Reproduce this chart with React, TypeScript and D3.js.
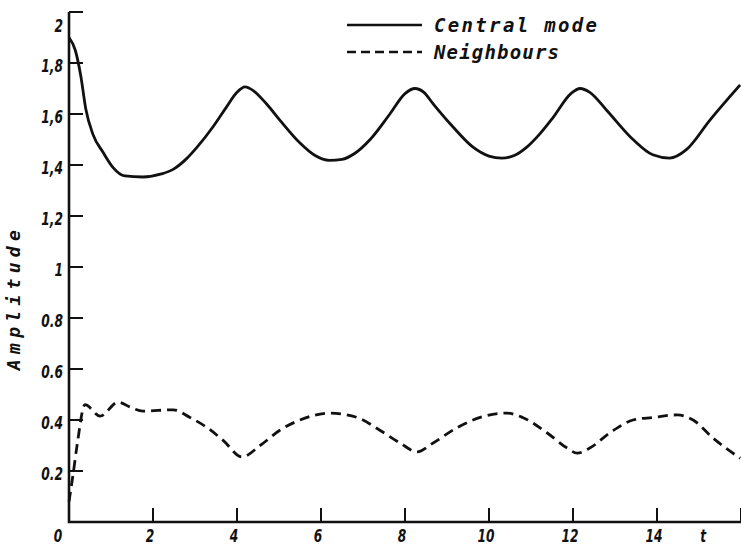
import React, { useRef, useEffect } from "react";
import * as d3 from "d3";

// Central mode (solid)
const centralT = [0, 0.15, 0.28, 0.4, 0.57, 0.81, 1.05, 1.33, 1.76, 2.2, 2.5, 2.8, 3.05, 3.43, 3.76, 4.0, 4.19, 4.4, 4.7, 5.02, 5.5, 5.85, 6.2, 6.5, 6.8, 7.17, 7.64, 8.0, 8.24, 8.45, 8.67, 9.14, 9.62, 10.0, 10.3, 10.6, 10.9, 11.2, 11.52, 11.95, 12.17, 12.4, 12.8, 13.43, 13.9, 14.3, 14.7, 15.26, 15.98];
const centralA = [1.9, 1.85, 1.75, 1.62, 1.52, 1.45, 1.39, 1.357, 1.353, 1.365, 1.385, 1.425, 1.47, 1.55, 1.63, 1.685, 1.706, 1.69, 1.64, 1.576, 1.486, 1.438, 1.418, 1.422, 1.445, 1.5, 1.6, 1.68, 1.7, 1.685, 1.64, 1.55, 1.47, 1.435, 1.427, 1.437, 1.47, 1.52, 1.585, 1.68, 1.7, 1.685, 1.615, 1.5, 1.44, 1.427, 1.46, 1.576, 1.714];

// Neighbours (dashed)
const neighT = [0, 0.1, 0.2, 0.38, 0.74, 1.17, 1.5, 1.76, 2.48, 2.88, 3.29, 3.67, 4.12, 4.55, 5.02, 5.5, 6.21, 6.86, 7.4, 7.88, 8.29, 8.67, 9.24, 9.79, 10.43, 10.8, 11.38, 11.86, 12.1, 12.4, 12.88, 13.43, 13.9, 14.48, 14.86, 15.33, 15.98];
const neighA = [0.08, 0.19, 0.31, 0.46, 0.415, 0.47, 0.447, 0.435, 0.44, 0.41, 0.37, 0.32, 0.255, 0.3, 0.36, 0.4, 0.427, 0.41, 0.36, 0.31, 0.275, 0.31, 0.37, 0.41, 0.427, 0.41, 0.35, 0.29, 0.27, 0.29, 0.35, 0.4, 0.41, 0.42, 0.4, 0.33, 0.25];

const xTicks = [2, 4, 6, 8, 10, 12, 14, 16];
const xTickLabels = ["2", "4", "6", "8", "10", "12", "14"];
const yTicks = [0.2, 0.4, 0.6, 0.8, 1, 1.2, 1.4, 1.6, 1.8, 2];
const yTickLabels = ["0.2", "0.4", "0.6", "0.8", "1", "1,2", "1,4", "1,6", "1,8", "2"];
const legendLabels = ["Central mode", "Neighbours"];

const W = 741;
const H = 548;
const INK = "#111";
const tickFont = "'DejaVu Sans', sans-serif";
const monoFont = "'DejaVu Sans Mono', monospace";

const App = () => {
  const ref = useRef<SVGSVGElement>(null);

  useEffect(() => {
    const svg = d3.select(ref.current);
    svg.selectAll("*").remove();

    const x = d3.scaleLinear().domain([0, 16]).range([69, 741]);
    const y = d3.scaleLinear().domain([0, 2]).range([522, 12]);

    // axes
    svg
      .append("path")
      .attr("d", `M${x(0)},${y(2)}V${y(0)}H${x(16)}`)
      .attr("fill", "none")
      .attr("stroke", INK)
      .attr("stroke-width", 2.6);

    svg
      .selectAll(".ytick")
      .data(yTicks)
      .enter()
      .append("line")
      .attr("x1", x(0))
      .attr("x2", x(0) + 14)
      .attr("y1", (d) => y(d))
      .attr("y2", (d) => y(d))
      .attr("stroke", INK)
      .attr("stroke-width", 2);

    svg
      .selectAll(".xtick")
      .data(xTicks)
      .enter()
      .append("line")
      .attr("x1", (d) => x(d))
      .attr("x2", (d) => x(d))
      .attr("y1", y(0))
      .attr("y2", y(0) - 14)
      .attr("stroke", INK)
      .attr("stroke-width", 2);

    // narrow bold italic labels: squeeze horizontally
    const addLabel = (tx, ty, txt, anchor) =>
      svg
        .append("text")
        .attr("transform", `translate(${tx},${ty}) scale(0.72,1)`)
        .attr("dy", "0.35em")
        .attr("text-anchor", anchor)
        .attr("font-family", tickFont)
        .attr("font-style", "italic")
        .attr("font-weight", "bold")
        .attr("font-size", 17)
        .attr("fill", INK)
        .text(txt);

    yTicks.forEach((d, i) =>
      addLabel(x(0) - 6, y(d) + (d === 2 ? 14 : 3), yTickLabels[i], "end")
    );
    xTickLabels.forEach((d, i) => addLabel(x(xTicks[i]) - 3, 536, d, "middle"));
    addLabel(x(0) - 11, 536, "0", "middle");
    addLabel(x(15.1), 536, "t", "middle");

    svg
      .append("text")
      .attr("transform", `translate(20, ${y(0.87)}) rotate(-90)`)
      .attr("text-anchor", "middle")
      .attr("font-family", monoFont)
      .attr("font-style", "italic")
      .attr("font-weight", "bold")
      .attr("font-size", 18)
      .attr("textLength", 140)
      .attr("lengthAdjust", "spacing")
      .attr("fill", INK)
      .text("Amplitude");

    // curves
    const line = d3
      .line<[number, number]>()
      .x((d) => x(d[0]))
      .y((d) => y(d[1]))
      .curve(d3.curveMonotoneX);

    svg
      .append("path")
      .attr("d", line(centralT.map((t, i) => [t, centralA[i]])))
      .attr("fill", "none")
      .attr("stroke", INK)
      .attr("stroke-width", 2.8);

    svg
      .append("path")
      .attr("d", line(neighT.map((t, i) => [t, neighA[i]])))
      .attr("fill", "none")
      .attr("stroke", INK)
      .attr("stroke-width", 2.8)
      .attr("stroke-dasharray", "10,6");

    // legend
    const legend = svg.append("g");
    legendLabels.forEach((label, i) => {
      const ly = 25 + i * 27;
      legend
        .append("line")
        .attr("x1", 347)
        .attr("x2", 422)
        .attr("y1", ly)
        .attr("y2", ly)
        .attr("stroke", INK)
        .attr("stroke-width", 2.4)
        .attr("stroke-dasharray", i === 1 ? "9,5" : null);
      legend
        .append("text")
        .attr("x", 434)
        .attr("y", ly)
        .attr("dy", "0.35em")
        .attr("font-family", monoFont)
        .attr("font-style", "italic")
        .attr("font-weight", "bold")
        .attr("font-size", 19)
        .attr("textLength", i === 0 ? 163 : 125)
        .attr("lengthAdjust", "spacing")
        .attr("fill", INK)
        .text(label);
    });
  }, []);

  return (
    <svg
      ref={ref}
      width={W}
      height={H}
      style={{ position: "absolute", left: 0, top: 0, background: "#fff" }}
    />
  );
};

export default App;
